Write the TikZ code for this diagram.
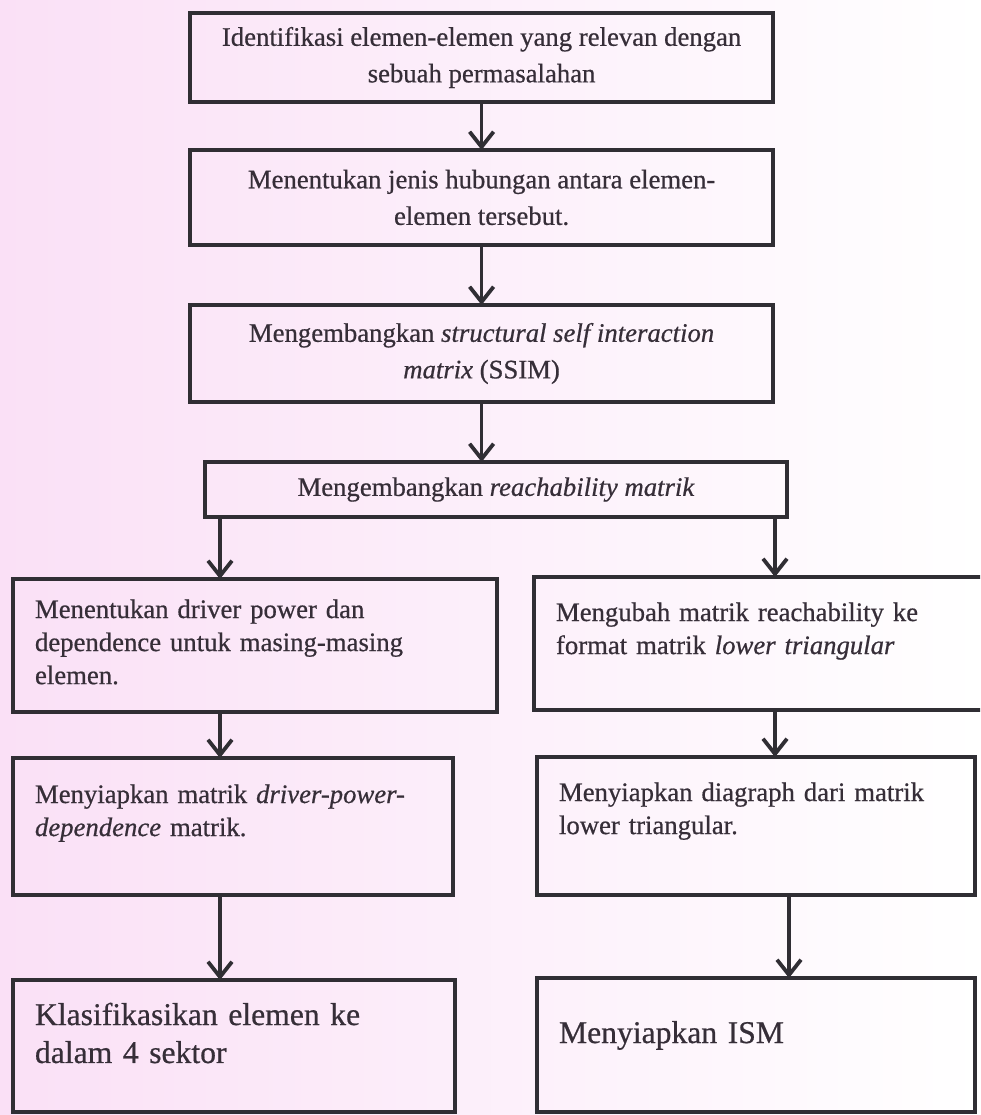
\documentclass[tikz,border=0pt]{standalone}
\usepackage{fontspec}
\setmainfont{Liberation Serif}[FakeBold=0.6]
\usetikzlibrary{arrows.meta,positioning}
\definecolor{inkgray}{RGB}{48,46,52}
\definecolor{textgray}{RGB}{54,46,56}
\definecolor{scanpink}{RGB}{250,224,246}
\tikzset{
  frame/.style={draw=inkgray, line width=3pt, outer sep=0pt},
  mainstep/.style={frame, anchor=north west, minimum width=14.575cm,
                   inner sep=0pt, align=center, text=textgray,
                   font=\fontsize{19}{26}\selectfont},
  sidestep/.style={frame, anchor=north west, inner xsep=0.55cm, inner ysep=0pt,
                   align=left, text=textgray,
                   font=\fontsize{19}{23.5}\selectfont},
  laststep/.style={sidestep, font=\fontsize{22.5}{27}\selectfont},
  flow/.style={draw=inkgray, line width=2.7pt,
               -{Straight Barb[length=3.8mm,width=6mm]}},
}

\begin{document}
\begin{tikzpicture}[x=0.025cm,y=-0.025cm]
  \path[use as bounding box] (0,0) rectangle (980,1115);
  \clip (0,0) rectangle (980,1115);
  \fill[left color=scanpink, right color=white] (0,0) rectangle (980,1115);

  % Main chain.
  \node[mainstep, minimum height=2.225cm] (identify) at (190,13)
    {Identifikasi elemen-elemen yang relevan dengan\\ sebuah permasalahan};
  \node[mainstep, minimum height=2.375cm] (relation) at (190,150)
    {Menentukan jenis hubungan antara elemen-\\ elemen tersebut.};
  \node[mainstep, minimum height=2.425cm] (ssim) at (190,305)
    {Mengembangkan \textit{structural self interaction}\\ \textit{matrix} (SSIM)};
  \node[mainstep, minimum width=14.55cm, minimum height=1.375cm] (reach) at (205,462)
    {Mengembangkan \textit{reachability matrik}};

  % Left branch.
  \node[sidestep, text width=11.0cm, text height=0.975cm, text depth=2.35cm] (driver) at (13,579)
    {Menentukan driver power dan\\ dependence untuk masing-masing\\ elemen.};
  \node[sidestep, text width=9.9cm, text height=1.125cm, text depth=2.3cm] (dpmatrix) at (13,758)
    {Menyiapkan matrik \textit{driver-power-}\\ \textit{dependence} matrik.};
  \node[laststep, text width=9.95cm, text height=1.125cm, text depth=2.175cm] (sector) at (13,980)
    {Klasifikasikan elemen ke\\ dalam 4 sektor};

  % Right branch.
  \node[sidestep, text width=10.3cm, text height=1.1cm, text depth=2.225cm] (lower) at (534,577)
    {Mengubah matrik reachability ke\\ format matrik \textit{lower triangular}};
  \node[sidestep, text width=9.85cm, text height=1.1cm, text depth=2.35cm] (digraph) at (537,757)
    {Menyiapkan diagraph dari matrik\\ lower triangular.};
  \node[laststep, text width=9.85cm, text height=1.625cm, text depth=1.725cm] (ism) at (537,978)
    {Menyiapkan ISM};

  \coordinate (leftlane) at (220,0);
  \coordinate (rightlane) at (775,0);
  \coordinate (ismlane) at (789,0);

  \draw[flow] (identify.south) -- (relation.north);
  \draw[flow] (relation.south) -- (ssim.north);
  \draw[flow] (ssim.south) -- (ssim.south |- reach.north);
  \draw[flow] (leftlane |- reach.south) -- (leftlane |- driver.north);
  \draw[flow] (leftlane |- driver.south) -- (leftlane |- dpmatrix.north);
  \draw[flow] (leftlane |- dpmatrix.south) -- (leftlane |- sector.north);
  \draw[flow] (rightlane |- reach.south) -- (rightlane |- lower.north);
  \draw[flow] (rightlane |- lower.south) -- (rightlane |- digraph.north);
  \draw[flow] (ismlane |- digraph.south) -- (ismlane |- ism.north);
\end{tikzpicture}
\end{document}
